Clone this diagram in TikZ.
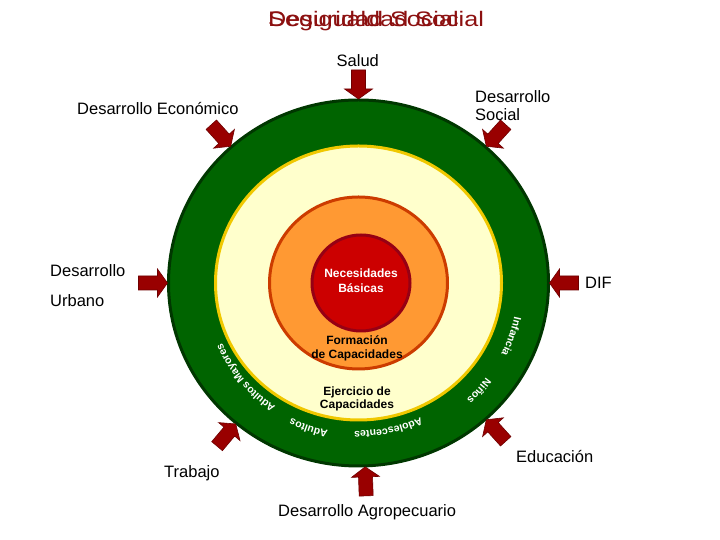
\documentclass[tikz,border=0pt]{standalone}
\usepackage{fontspec}
\setmainfont{Liberation Sans}
\usetikzlibrary{decorations.text}
\definecolor{ringgreen}{RGB}{0,100,0}
\definecolor{ringdark}{RGB}{0,55,0}
\definecolor{cream}{RGB}{255,255,204}
\definecolor{ringyellow}{RGB}{240,200,0}
\definecolor{orangefill}{RGB}{255,153,51}
\definecolor{orangeline}{RGB}{204,60,0}
\definecolor{corefill}{RGB}{204,0,0}
\definecolor{coreline}{RGB}{150,0,20}
\definecolor{arrowred}{RGB}{153,0,0}
\definecolor{arrowdark}{RGB}{110,0,0}
\definecolor{titlered}{RGB}{140,16,16}
\newcommand\lblfont{\fontsize{16.5}{18}\selectfont}
\newcommand\innerfont{\fontsize{12}{14}\selectfont\bfseries}
\newcommand\ringfont{\color{white}\fontsize{10.5}{11}\selectfont\bfseries}
\newcommand\ringtext[4]{%
  \path[decorate, decoration={text along path, text align=center, text={|\ringfont|#4}}]
    ([shift={(#1+#3:#2)}]C) arc[start angle=#1+#3, end angle=#1-#3, radius=#2];}
\tikzset{
  pics/inarrow/.style={code={%
    \fill[arrowred, draw=arrowdark, line width=0.6pt, line join=miter]
      (0,0) -- (10,14) -- (10,7) -- (29,7) -- (29,-7) -- (10,-7) -- (10,-14) -- cycle;}},
  lbltext/.style={inner sep=0pt, anchor=base west, font=\lblfont, align=left},
  innertext/.style={inner sep=0pt, anchor=base, font=\innerfont, align=center},
  titletext/.style={inner sep=0pt, anchor=base west, text=titlered},
}
\begin{document}
\begin{tikzpicture}[x=1pt,y=1pt]
\useasboundingbox (0,0) rectangle (720,540);
\coordinate (C) at (358.5,257);
% rings
\draw[fill=ringgreen, draw=ringdark, line width=3pt] (C) ellipse[x radius=190, y radius=183];
\draw[fill=cream, draw=ringyellow, line width=3pt] (C) ellipse[x radius=143, y radius=137];
\draw[fill=orangefill, draw=orangeline, line width=3pt] (C) ellipse[x radius=89, y radius=86];
\draw[fill=corefill, draw=coreline, line width=3pt] ([xshift=2.5pt]C) ellipse[x radius=49, y radius=48];
% arrows pointing inward
\foreach \a in {0,48,90,132,180,230,272,312}{
  \path ([shift={({191*cos(\a)},{184*sin(\a)})}]C) pic[rotate=\a] {inarrow};
}
% title
\node[titletext] (t1) at (268,513) {\scalebox{1.2}[1]{\fontsize{21}{21}\selectfont Desigualdad Social}};
\node[titletext] (t2) at (268,513) {\scalebox{1.2}[1]{\fontsize{21}{21}\selectfont Seguridad Social}};
% outer labels
\node[lbltext] (salud) at (336.5,473) {Salud};
\node[lbltext] (social) at (475,419) {Desarrollo\\Social};
\node[lbltext] (econ) at (77,425) {Desarrollo Económico};
\node[lbltext] (urbano) at (50,233) {Desarrollo\\[12pt]Urbano};
\node[lbltext] (dif) at (585,251) {DIF};
\node[lbltext] (educ) at (516,77) {Educación};
\node[lbltext] (trabajo) at (164,62) {Trabajo};
\node[lbltext] (agro) at (278,23) {Desarrollo Agropecuario};
% inner labels
\node[innertext, text=white] (nec) at (361,247) {Necesidades\\[1pt]Básicas};
\node[innertext] (form) at (357,181) {Formación\\de Capacidades};
\node[innertext] (ejer) at (357,131) {Ejercicio de\\[-1pt]Capacidades};
% ring texts
\ringtext{220}{149}{26}{Adultos Mayores}
\ringtext{251}{151}{20}{Adultos}
\ringtext{281.6}{148}{28}{Adolescentes}
\ringtext{318.1}{159}{18}{Niños}
\ringtext{340.7}{159.5}{20}{Infancia}
\end{tikzpicture}
\end{document}
